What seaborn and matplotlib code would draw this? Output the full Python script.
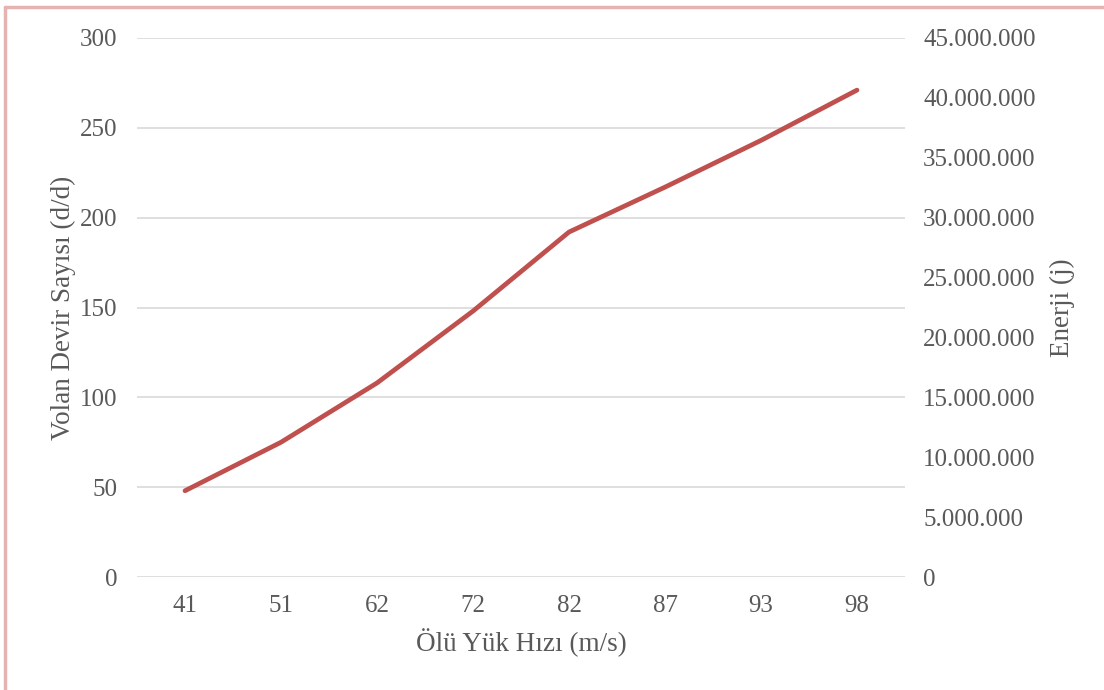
import matplotlib
matplotlib.use("Agg")
import matplotlib.pyplot as plt
from matplotlib.lines import Line2D
from matplotlib.ticker import FuncFormatter
import seaborn as sns
import pandas as pd

# Data
hiz = ["41", "51", "62", "72", "82", "87", "93", "98"]
devir = [48, 75, 108, 148, 192, 217, 243, 271]
left_ticks = [0, 50, 100, 150, 200, 250, 300]
right_ticks = [0, 5e6, 10e6, 15e6, 20e6, 25e6, 30e6, 35e6, 40e6, 45e6]

sns.set_theme(style="white")
plt.rcParams["font.family"] = ["Liberation Serif", "DejaVu Serif"]

text_col = "#595959"
grid_col = "#D9D9D9"
line_col = "#C0504D"

df = pd.DataFrame({"hiz": hiz, "devir": devir})

fig = plt.figure(figsize=(11.04, 6.9), dpi=100)
ax = fig.add_axes([137 / 1104, 1 - 577 / 690, (905 - 137) / 1104, (577 - 38) / 690])

sns.lineplot(data=df, x="hiz", y="devir", ax=ax, color=line_col, linewidth=3.4,
             sort=False, solid_capstyle="round", zorder=3)

ax.set_xlim(-0.5, len(hiz) - 0.5)
ax.set_ylim(0, 300)
ax.set_yticks(left_ticks)
ax.grid(axis="y", color=grid_col, linewidth=1.2)
ax.set_axisbelow(True)
for s in ax.spines.values():
    s.set_visible(False)
ax.tick_params(axis="both", length=0, labelsize=18, colors=text_col)
ax.tick_params(axis="y", pad=14)
ax.tick_params(axis="x", pad=13)
ax.set_xlabel("Ölü Yük Hızı (m/s)", fontsize=19.5, color=text_col, labelpad=8)
ax.set_ylabel("Volan Devir Sayısı (d/d)", fontsize=19.5, color=text_col, labelpad=3)

ax2 = ax.twinx()
ax2.set_ylim(0, 45e6)
ax2.set_yticks(right_ticks)
ax2.yaxis.set_major_formatter(FuncFormatter(lambda v, p: f"{int(v):,}".replace(",", ".")))
for s in ax2.spines.values():
    s.set_visible(False)
ax2.tick_params(axis="y", length=0, labelsize=18, colors=text_col, pad=13)
ax2.set_ylabel("Enerji (j)", fontsize=19.5, color=text_col, labelpad=10)
ax2.grid(False)

# Page frame
frame_col = "#E6B3B3"
fig.add_artist(Line2D([0.0045, 1.0], [1 - 6.5 / 690, 1 - 6.5 / 690], transform=fig.transFigure,
                      color=frame_col, linewidth=2.5))
fig.add_artist(Line2D([5.5 / 1104, 5.5 / 1104], [0.0, 1 - 6.5 / 690], transform=fig.transFigure,
                      color=frame_col, linewidth=2.5))

fig.savefig("out.png", dpi=100, facecolor="white")
